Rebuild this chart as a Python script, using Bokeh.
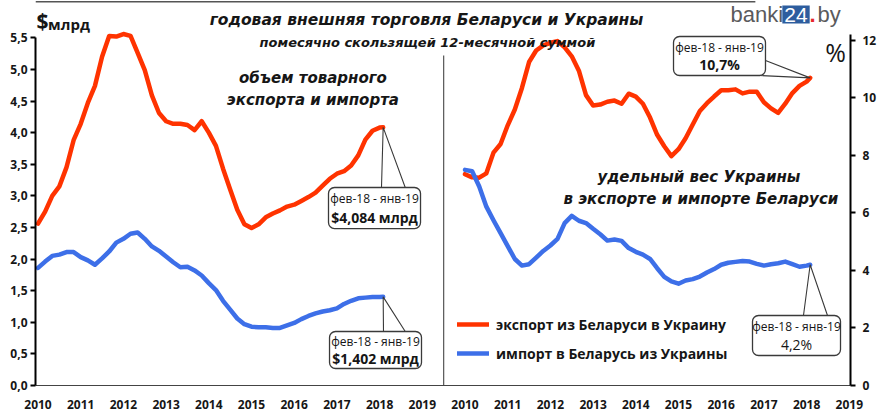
from bokeh.plotting import figure
from bokeh.models import (Range1d, LinearAxis, FixedTicker, CustomJSTickFormatter,
                          Label, BoxAnnotation, Legend, LegendItem)
from bokeh.embed import file_html
from bokeh.resources import INLINE

# ---------------- data ----------------
months = list(range(0, 97, 2)) + [97]          # months since Jan 2010
t = [2010 + m / 12 for m in months]

# left panel: 12-month rolling sums, $ bn
export_bn = [2.56, 2.75, 3.00, 3.15, 3.45, 3.88, 4.14, 4.47, 4.74, 5.20,
             5.53, 5.52, 5.56, 5.53, 5.26, 4.99, 4.59, 4.31, 4.18, 4.14,
             4.14, 4.12, 4.04, 4.18, 4.00, 3.79, 3.43, 3.10, 2.78, 2.55,
             2.49, 2.55, 2.66, 2.72, 2.77, 2.83, 2.86, 2.92, 2.98, 3.05,
             3.16, 3.27, 3.35, 3.39, 3.48, 3.64, 3.89, 4.03, 4.08, 4.084]
import_bn = [1.86, 1.96, 2.05, 2.07, 2.11, 2.11, 2.03, 1.98, 1.91, 2.01,
             2.12, 2.26, 2.32, 2.40, 2.42, 2.32, 2.20, 2.13, 2.04, 1.95,
             1.87, 1.88, 1.82, 1.74, 1.62, 1.51, 1.34, 1.20, 1.06, 0.97,
             0.93, 0.92, 0.92, 0.91, 0.91, 0.95, 0.99, 1.05, 1.10, 1.14,
             1.17, 1.19, 1.22, 1.29, 1.34, 1.38, 1.39, 1.40, 1.40, 1.402]

# right panel: Ukraine's share, %
export_share = [7.35, 7.24, 7.23, 7.38, 8.10, 8.40, 9.05, 9.60, 10.35, 11.25,
                11.65, 11.83, 11.92, 11.98, 11.76, 11.45, 10.95, 10.10, 9.74, 9.77,
                9.87, 9.91, 9.80, 10.15, 10.05, 9.80, 9.32, 8.72, 8.32, 7.98,
                8.22, 8.60, 9.08, 9.55, 9.82, 10.05, 10.27, 10.27, 10.30, 10.16,
                10.22, 10.22, 9.85, 9.64, 9.48, 9.80, 10.17, 10.42, 10.57, 10.70]
import_share = [7.50, 7.45, 6.92, 6.22, 5.75, 5.30, 4.85, 4.40, 4.17, 4.22,
                4.45, 4.68, 4.87, 5.10, 5.65, 5.90, 5.73, 5.65, 5.45, 5.26,
                5.04, 5.08, 5.03, 4.78, 4.65, 4.55, 4.40, 4.08, 3.78, 3.62,
                3.54, 3.65, 3.70, 3.79, 3.93, 4.05, 4.20, 4.27, 4.30, 4.33,
                4.31, 4.23, 4.17, 4.22, 4.25, 4.31, 4.22, 4.13, 4.17, 4.20]

years = list(range(2010, 2020))
left_ticks = [0.0, 0.5, 1.0, 1.5, 2.0, 2.5, 3.0, 3.5, 4.0, 4.5, 5.0, 5.5]
right_ticks = [0, 2, 4, 6, 8, 10, 12]
PANEL_SHIFT = 10   # right panel is drawn 10 "years" to the right on the shared frame
DIVIDER = 2019.5

RED = "#ff3300"
BLUE = "#3d6fe8"
INK = "#161616"
SERIF_IT = "DejaVu Sans"
SANS = "Open Sans"

# ---------------- figure ----------------
p = figure(width=883, height=415, output_backend="svg", toolbar_location=None,
           x_range=Range1d(2009.941, 2029.028), y_range=Range1d(0, 6.090),
           x_axis_location=None, y_axis_location=None,
           min_border_left=35, min_border_right=33, min_border_top=0, min_border_bottom=30)
p.extra_x_ranges = {"r": Range1d(2009.941 - PANEL_SHIFT, 2029.028 - PANEL_SHIFT)}
p.extra_y_ranges = {"pct": Range1d(0, 13.391)}
p.outline_line_color = None
p.xgrid.visible = False
p.ygrid.visible = False
p.background_fill_color = "white"
p.border_fill_color = "white"

def style_axis(ax, size="12px"):
    ax.major_label_text_font = SANS
    ax.major_label_text_font_style = "bold"
    ax.major_label_text_font_size = size
    ax.major_label_text_color = INK
    ax.minor_tick_line_color = None

yl = LinearAxis(ticker=FixedTicker(ticks=left_ticks), bounds=(0, 5.5),
                formatter=CustomJSTickFormatter(code="return tick.toFixed(1).replace('.', ',');"))
style_axis(yl)
yl.axis_line_width = 2
yl.axis_line_color = "black"
yl.major_tick_line_width = 2
yl.major_tick_in = 0
yl.major_tick_out = 5
yl.major_label_standoff = 3
p.add_layout(yl, "left")

yr = LinearAxis(y_range_name="pct", ticker=FixedTicker(ticks=right_ticks), bounds=(0, 12.2))
style_axis(yr)
yr.axis_line_width = 2
yr.axis_line_color = "black"
yr.major_tick_line_width = 2
yr.major_tick_in = 0
yr.major_tick_out = 5
yr.major_label_standoff = 7
p.add_layout(yr, "right")

xb = LinearAxis(ticker=FixedTicker(ticks=years + [y + PANEL_SHIFT for y in years]),
                formatter=CustomJSTickFormatter(args=dict(shift=PANEL_SHIFT, split=DIVIDER),
                                                code="return String(tick > split ? tick - shift : tick);"))
style_axis(xb)
xb.axis_line_color = "#444444"
xb.axis_line_width = 1
xb.major_tick_line_color = None
xb.major_tick_in = 0
xb.major_tick_out = 0
xb.major_label_standoff = 14
p.add_layout(xb, "below")

# vertical divider between the two panels and the top edge of the picture frame
p.segment(x0=DIVIDER, y0=0, x1=DIVIDER, y1=5.22, line_color="#555555", line_width=1.2)
p.segment(x0=2009.941, y0=6.072, x1=2026.80, y1=6.072, line_color="#555555", line_width=1.5)

# ---------------- lines ----------------
kw = dict(line_width=4.5, line_join="round", line_cap="round")
p.line(t, export_bn, color=RED, **kw)
p.line(t, import_bn, color=BLUE, **kw)
r_exp = p.line(t, export_share, color=RED, x_range_name="r", y_range_name="pct", **kw)
r_imp = p.line(t, import_share, color=BLUE, x_range_name="r", y_range_name="pct", **kw)

legend = Legend(items=[LegendItem(label="экспорт из Беларуси в Украину", renderers=[r_exp]),
                       LegendItem(label="импорт в Беларусь из Украины", renderers=[r_imp])],
                location=(422, 22), orientation="vertical",
                glyph_width=32, glyph_height=20, label_height=20, spacing=9,
                padding=0, margin=0, label_standoff=7,
                label_text_font=SANS, label_text_font_style="bold",
                label_text_font_size="14px", label_text_color=INK,
                background_fill_alpha=0, border_line_color=None)
p.add_layout(legend)

# ---------------- texts ----------------
def lab(x, y, text, size, style="bold italic", font=SERIF_IT, align="center",
        color=INK, xr="default", yrn="default", **extra):
    p.add_layout(Label(x=x, y=y, text=text, text_font=font, text_font_size=size,
                       text_font_style=style, text_align=align, text_baseline="middle",
                       text_color=color, x_range_name=xr, y_range_name=yrn, **extra))

lab(2019.098, 5.774, "годовая внешняя торговля Беларуси и Украины", "15.5px")
lab(2019.12, 5.426, "помесячно скользящей 12-месячной суммой", "13px")
lab(2016.499, 4.872, "объем  товарного", "15px")
lab(2016.499, 4.524, "экспорта  и импорта", "15px")
lab(2015.539, 7.235, "удельный  вес Украины", "15px", xr="r", yrn="pct")
lab(2015.585, 6.470, "в экспорте  и импорте Беларуси", "15px", xr="r", yrn="pct")

lab(2009.965, 5.758, "$", "21px", style="bold", font=SANS, align="left")
lab(2010.235, 5.726, "млрд", "15px", style="bold", font=SANS, align="left")
lab(2028.677, 5.283, "%", "25px", style="normal", font=SANS)

# logo
lab(2026.218, 5.868, "banki", "22px", style="normal", font="Liberation Sans", align="left",
    color="#5a5a5c")
lab(2027.752, 5.868, "24", "21px", style="normal", font="Liberation Sans", color="white",
    background_fill_color="#2d5d9e", padding=2)
lab(2028.068, 5.868, ".", "22px", style="bold", font="Liberation Sans", align="left",
    color="#e8262b")
lab(2028.255, 5.868, "by", "22px", style="normal", font="Liberation Sans", align="left",
    color="#5a5a5c")

# ---------------- callouts ----------------
def callout(l, r, b, top, base, tip, line1, line2, bold2=True, xr="default", yrn="default"):
    p.line([base[0][0], tip[0], base[1][0]], [base[0][1], tip[1], base[1][1]],
           line_color="#3a3a3a", line_width=1.1, x_range_name=xr, y_range_name=yrn)
    p.add_layout(BoxAnnotation(left=l, right=r, bottom=b, top=top, fill_color="white",
                               fill_alpha=1, line_color="#3a3a3a", line_width=1.3,
                               line_alpha=1, border_radius=6,
                               x_range_name=xr, y_range_name=yrn))
    cx = (l + r) / 2
    h = top - b
    lab(cx, top - 0.27 * h, line1, "12px", style="normal", font=SANS, xr=xr, yrn=yrn)
    lab(cx, top - 0.72 * h, line2, "14px", style="bold" if bold2 else "normal",
        font=SANS, xr=xr, yrn=yrn)

callout(2016.803, 2018.958, 2.483, 3.132, [(2018.044, 3.132), (2018.600, 3.132)],
        (t[-1], export_bn[-1]), "фев-18 - янв-19", "$4,084 млрд")
callout(2016.827, 2018.981, 0.269, 0.854, [(2018.091, 0.854), (2018.600, 0.854)],
        (t[-1], import_bn[-1]), "фев-18 - янв-19", "$1,402 млрд")
callout(2014.883, 2017.037, 10.783, 12.139, [(2017.037, 11.304), (2016.874, 10.783)],
        (t[-1], export_share[-1]), "фев-18 - янв-19", "10,7%", xr="r", yrn="pct")
callout(2016.733, 2018.794, 1.043, 2.435, [(2017.927, 2.435), (2018.489, 2.435)],
        (t[-1], import_share[-1]), "фев-18 - янв-19", "4,2%", bold2=False, xr="r", yrn="pct")

open("out.html", "w").write(file_html(p, INLINE))
